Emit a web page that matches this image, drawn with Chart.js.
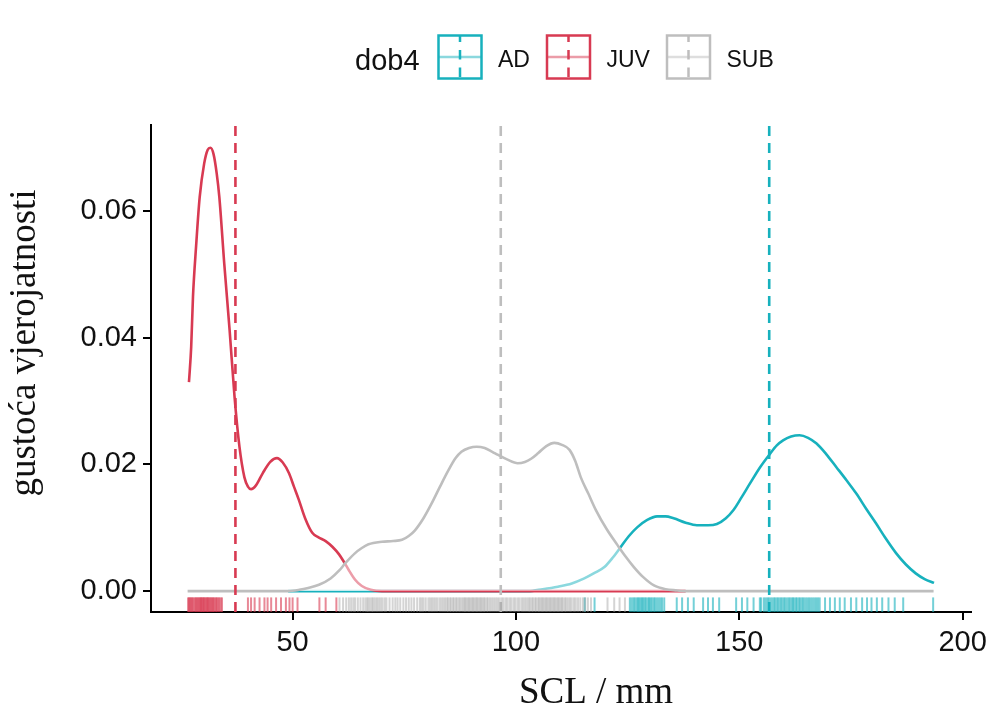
<!DOCTYPE html>
<html>
<head>
<meta charset="utf-8">
<script src="https://cdn.jsdelivr.net/npm/chart.js@4"></script>
<style>
  html, body { margin: 0; padding: 0; background: #fff; }
  #wrap { width: 993px; height: 709px; }
</style>
</head>
<body>
<div id="wrap"><canvas id="chart" width="993" height="709"></canvas></div>
<script>
// groups and colours
const groups = ['AD', 'JUV', 'SUB'];
const lineColor = { AD: '#17b1bd', JUV: '#d83a52', SUB: '#bebebe' };
const rugColor = { AD: 'rgba(23,177,189,0.6)', JUV: 'rgba(216,58,82,0.6)', SUB: 'rgba(160,160,160,0.45)' };

// density curves
const juvX = [26.8, 27.3, 27.7, 28.4, 29.2, 30.2, 31.0, 31.6, 32.3, 33.0, 33.6, 34.7, 35.9, 37.0, 38.1, 39.2, 40.0, 40.7, 41.8, 43.3, 45.0, 46.5, 47.8, 49.2, 50.3, 51.4, 52.8, 54.4, 55.8, 57.4, 58.9, 60.4, 61.5, 62.6, 64.0, 65.5, 67.5, 70.0, 138.0];
const juvY = [0.0330, 0.0386, 0.0465, 0.0545, 0.0622, 0.0675, 0.0697, 0.0700, 0.0690, 0.0660, 0.0622, 0.0517, 0.0412, 0.0307, 0.0228, 0.0180, 0.0165, 0.0161, 0.0167, 0.0186, 0.0204, 0.0210, 0.0203, 0.0186, 0.0165, 0.0144, 0.0115, 0.0092, 0.0085, 0.0079, 0.0070, 0.0058, 0.0046, 0.0033, 0.0018, 0.0008, 0.0002, 0.0000, 0.0000];

const subX = [26.5, 49.0, 51.5, 53.5, 55.9, 58.5, 60.5, 61.8, 64.0, 65.5, 67.0, 70.0, 72.5, 74.5, 76.0, 77.4, 79.3, 81.1, 83.0, 84.9, 86.5, 87.8, 89.5, 91.2, 93.0, 94.7, 96.0, 98.0, 100.4, 102.0, 103.4, 105.0, 106.8, 108.6, 110.3, 112.0, 113.3, 114.5, 116.2, 117.9, 120.3, 122.7, 124.5, 126.4, 128.5, 130.9, 133.5, 136.1, 137.5, 193.5];
const subY = [0, 0, 0.0002, 0.0005, 0.0010, 0.0020, 0.0033, 0.0044, 0.0060, 0.0068, 0.0074, 0.0078, 0.0079, 0.0081, 0.0087, 0.0096, 0.0115, 0.0138, 0.0165, 0.0191, 0.0210, 0.0220, 0.0226, 0.0228, 0.0226, 0.0220, 0.0215, 0.0208, 0.0202, 0.0204, 0.0209, 0.0218, 0.0229, 0.0234, 0.0231, 0.0223, 0.0205, 0.0180, 0.0154, 0.0128, 0.0098, 0.0073, 0.0055, 0.0038, 0.0022, 0.0009, 0.0003, 0.0001, 0, 0];

const adX = [49.0, 102.7, 106.0, 109.4, 112.5, 115.3, 117.7, 119.8, 121.7, 123.5, 125.3, 127.2, 129.3, 131.6, 133.5, 135.3, 138.0, 140.5, 143.0, 145.0, 147.0, 148.7, 150.5, 152.4, 154.7, 156.9, 158.4, 159.8, 161.6, 163.5, 165.4, 167.3, 169.5, 171.7, 174.0, 176.2, 178.4, 180.6, 182.8, 185.1, 187.3, 189.5, 191.5, 193.6];
const adY = [0, 0, 0.0003, 0.0007, 0.0012, 0.0020, 0.0029, 0.0038, 0.0053, 0.0070, 0.0087, 0.0101, 0.0112, 0.0118, 0.0118, 0.0115, 0.0108, 0.0104, 0.0104, 0.0106, 0.0115, 0.0128, 0.0148, 0.0170, 0.0196, 0.0217, 0.0230, 0.0238, 0.0244, 0.0246, 0.0242, 0.0233, 0.0216, 0.0196, 0.0175, 0.0154, 0.0130, 0.0107, 0.0083, 0.0060, 0.0042, 0.0028, 0.0019, 0.0013];

// group means (dashed lines)
const means = { AD: 156.7, JUV: 37.2, SUB: 96.6 };

// rug: individual SCL values
const juvRug = [26.6, 26.8, 27.0, 27.2, 27.4, 27.6, 27.8, 28.1, 28.3, 28.5, 28.7, 28.9, 29.1, 29.3, 29.5, 29.6, 29.8, 30.0, 30.1, 30.3, 30.5, 30.7, 30.9, 31.0, 31.2, 31.4, 31.6, 31.8, 32.0, 32.2, 32.4, 32.7, 32.9, 33.1, 33.4, 33.6, 33.9, 34.2, 40.0, 40.7, 41.5, 42.6, 43.7, 44.4, 45.2, 46.3, 47.4, 48.5, 49.3, 50.0, 51.1, 56.0, 57.4, 59.8];
const subRug = [60.5, 61.3, 62.0, 62.6, 63.1, 63.6, 64.0, 64.6, 65.2, 65.8, 66.3, 66.7, 67.0, 67.4, 67.8, 68.1, 68.5, 68.9, 69.3, 69.7, 70.1, 70.6, 71.0, 71.7, 72.4, 73.0, 73.5, 74.1, 74.8, 75.4, 76.0, 76.6, 77.2, 77.9, 78.5, 78.9, 79.3, 79.8, 80.4, 80.8, 81.2, 81.6, 82.0, 82.4, 82.9, 83.3, 83.7, 84.1, 84.5, 84.8, 85.2, 85.5, 85.9, 86.2, 86.6, 86.9, 87.3, 87.6, 88.0, 88.3, 88.6, 88.9, 89.2, 89.5, 89.8, 90.1, 90.4, 90.7, 91.0, 91.3, 91.6, 91.9, 92.2, 92.5, 92.8, 93.1, 93.5, 93.8, 94.2, 94.6, 95.0, 95.4, 95.8, 96.2, 96.7, 97.1, 97.6, 98.0, 98.5, 98.9, 99.4, 99.8, 100.3, 100.7, 101.2, 101.6, 102.0, 102.4, 102.8, 103.1, 103.5, 103.8, 104.2, 104.5, 104.9, 105.2, 105.5, 105.8, 106.1, 106.4, 106.7, 107.0, 107.3, 107.6, 107.9, 108.2, 108.5, 108.8, 109.1, 109.4, 109.7, 110.0, 110.3, 110.6, 111.0, 111.3, 111.7, 112.1, 112.5, 113.0, 113.4, 113.9, 114.4, 115.0, 115.5, 116.1, 116.8, 120.5, 122.0, 123.2, 124.4];
const adRug = [115.4, 117.6, 125.5, 125.9, 126.3, 126.6, 127.0, 127.3, 127.6, 127.9, 128.2, 128.5, 128.8, 129.1, 129.5, 129.8, 130.1, 130.4, 130.8, 131.1, 131.5, 131.9, 132.3, 132.7, 133.2, 136.0, 137.2, 138.5, 139.8, 141.9, 143.0, 144.1, 145.5, 149.3, 150.6, 151.8, 153.2, 154.6, 154.9, 155.5, 155.9, 156.3, 156.6, 157.0, 157.4, 157.8, 158.1, 158.5, 158.8, 159.2, 159.5, 159.9, 160.2, 160.6, 161.0, 161.3, 161.7, 162.0, 162.3, 162.7, 163.0, 163.4, 163.7, 164.1, 164.4, 164.8, 165.2, 165.6, 166.0, 166.4, 166.8, 167.2, 167.6, 168.0, 169.2, 170.3, 171.4, 172.5, 173.6, 175.0, 176.2, 177.5, 178.6, 179.6, 180.8, 182.0, 183.4, 184.8, 186.7, 193.4];

// axes
const xMin = 18.3, xMax = 201.9;
const yMin = -0.0033, yMax = 0.0736;
const xTicks = [50, 100, 150, 200];
const yTicks = [0, 0.02, 0.04, 0.06];

const pts = (xs, ys) => xs.map((x, i) => ({ x: x, y: ys[i] }));
const rugY = yMin + 0.00115;

function densitySet(g, xs, ys, order) {
  return {
    type: 'line', label: g, data: pts(xs, ys), order: order,
    borderColor: lineColor[g], borderWidth: 2.6,
    backgroundColor: 'rgba(255,255,255,0.5)', fill: 'origin',
    pointRadius: 0, cubicInterpolationMode: 'monotone'
  };
}
function meanSet(g, order) {
  return {
    type: 'line', data: [{ x: means[g], y: yMin }, { x: means[g], y: yMax }], order: order,
    borderColor: lineColor[g], borderWidth: 2.6, borderDash: [10, 7],
    pointRadius: 0, fill: false
  };
}
function rugSet(g, vals, order) {
  return {
    type: 'scatter', data: vals.map(v => ({ x: v, y: rugY })), order: order,
    pointStyle: 'line', rotation: 90, radius: 7.3,
    borderColor: rugColor[g], borderWidth: 2, backgroundColor: rugColor[g]
  };
}

const decor = {
  id: 'decor',
  afterDraw(chart) {
    const ctx = chart.ctx;
    ctx.save();
    ctx.fillStyle = '#111';
    // axis titles
    ctx.font = '37px "Liberation Serif"';
    ctx.textAlign = 'center';
    ctx.textBaseline = 'alphabetic';
    ctx.fillText('SCL / mm', 596, 703);
    ctx.save();
    ctx.translate(35, 343);
    ctx.rotate(-Math.PI / 2);
    ctx.fillText('gustoća vjerojatnosti', 0, 0);
    ctx.restore();
    // legend
    ctx.textAlign = 'left';
    ctx.font = '29px "Liberation Sans"';
    ctx.fillText('dob4', 355, 70);
    const keyX = { AD: 438.5, JUV: 547, SUB: 667 };
    const labX = { AD: 498, JUV: 606.5, SUB: 726.5 };
    ctx.font = '23px "Liberation Sans"';
    groups.forEach(g => {
      const x = keyX[g], y = 35.5, s = 43;
      ctx.lineWidth = 2.5;
      ctx.strokeStyle = lineColor[g];
      ctx.strokeRect(x, y, s, s);
      ctx.globalAlpha = 0.5;
      ctx.beginPath();
      ctx.moveTo(x, y + s / 2);
      ctx.lineTo(x + s, y + s / 2);
      ctx.stroke();
      ctx.globalAlpha = 1;
      ctx.setLineDash([9.5, 8]);
      ctx.lineDashOffset = 3;
      ctx.beginPath();
      ctx.moveTo(x + s / 2, y);
      ctx.lineTo(x + s / 2, y + s);
      ctx.stroke();
      ctx.setLineDash([]);
      ctx.fillStyle = '#111';
      ctx.fillText(g, labX[g], 66.5);
    });
    ctx.restore();
  }
};

const axisCommon = {
  type: 'linear',
  grid: { drawOnChartArea: false, drawTicks: true, tickLength: 8, color: '#000', lineWidth: 2 },
  border: { display: true, color: '#000', width: 2 },
  ticks: { font: { family: 'Liberation Sans', size: 29 }, color: '#111' }
};

new Chart(document.getElementById('chart'), {
  data: {
    datasets: [
      rugSet('SUB', subRug, 0),
      rugSet('JUV', juvRug, 1),
      rugSet('AD', adRug, 2),
      meanSet('SUB', 3),
      meanSet('JUV', 4),
      meanSet('AD', 5),
      densitySet('SUB', subX, subY, 6),
      densitySet('JUV', juvX, juvY, 7),
      densitySet('AD', adX, adY, 8)
    ]
  },
  options: {
    responsive: false,
    animation: false,
    events: [],
    layout: { padding: { top: 125, right: 18, left: 0, bottom: 0 } },
    plugins: { legend: { display: false }, tooltip: { enabled: false } },
    scales: {
      x: Object.assign({}, axisCommon, {
        min: xMin, max: xMax,
        ticks: Object.assign({}, axisCommon.ticks, { padding: 6 }),
        afterBuildTicks: s => { s.ticks = xTicks.map(v => ({ value: v })); },
        afterFit: s => { s.height = 97; }
      }),
      y: Object.assign({}, axisCommon, {
        min: yMin, max: yMax,
        ticks: Object.assign({}, axisCommon.ticks, { padding: 6, callback: v => v.toFixed(2) }),
        afterBuildTicks: s => { s.ticks = yTicks.map(v => ({ value: v })); },
        afterFit: s => { s.width = 151; }
      })
    }
  },
  plugins: [decor]
});
</script>
</body>
</html>
